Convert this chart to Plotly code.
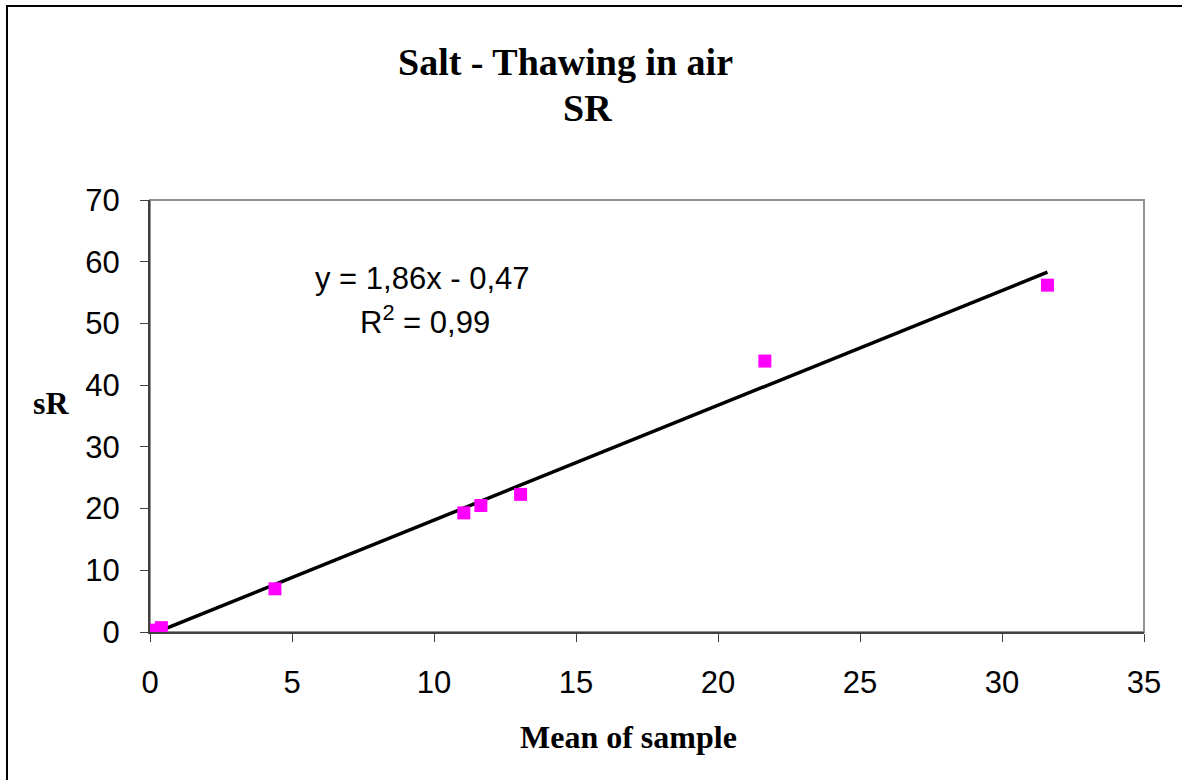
import plotly.graph_objects as go
import numpy as np

# Data
mean_of_sample = [0.15, 0.4, 4.4, 11.05, 11.65, 13.05, 21.65, 31.6]
sR_values = [0.3, 0.7, 7.0, 19.3, 20.5, 22.3, 43.9, 56.2]
trend_slope = 1.86
trend_intercept = -0.47
x_ticks = [0, 5, 10, 15, 20, 25, 30, 35]
y_ticks = [0, 10, 20, 30, 40, 50, 60, 70]

W, H = 1182, 780
L, R, T, B = 150, 38, 200, 148
pw, ph = W - L - R, H - T - B

def px(x):
    return (x - L) / pw

def py(y):
    return (H - B - y) / ph

x_line = np.array([min(mean_of_sample), max(mean_of_sample)])
y_line = trend_slope * x_line + trend_intercept

fig = go.Figure()
fig.add_trace(go.Scatter(x=x_line, y=y_line, mode="lines",
                         line=dict(color="black", width=3.5), showlegend=False,
                         hoverinfo="skip"))
fig.add_trace(go.Scatter(x=mean_of_sample, y=sR_values, mode="markers",
                         marker=dict(symbol="square", size=13, color="#FF00FF",
                                     line=dict(width=0)),
                         showlegend=False))

sans = "Liberation Sans, Arial, sans-serif"
serif = "Liberation Serif, Times New Roman, serif"

def label(text, x, y, family, size):
    return dict(text=text, xref="paper", yref="paper", x=px(x), y=py(y),
                xanchor="center", yanchor="middle", showarrow=False,
                font=dict(family=family, size=size, color="black"))

fig.update_layout(
    width=W, height=H,
    margin=dict(l=L, r=R, t=T, b=B),
    paper_bgcolor="white", plot_bgcolor="white",
    xaxis=dict(range=[0, 35], tickvals=x_ticks, ticks="outside", ticklen=8,
               tickcolor="#404040", showline=True, linecolor="#404040", linewidth=2,
               showgrid=False, zeroline=False, tickfont=dict(family=sans, size=31, color="black"),
               ticklabelstandoff=14),
    yaxis=dict(range=[0, 70], tickvals=y_ticks, ticks="outside", ticklen=8,
               tickcolor="#404040", showline=True, linecolor="#404040", linewidth=2,
               showgrid=False, zeroline=False, tickfont=dict(family=sans, size=31, color="black"),
               ticklabelstandoff=14),
    shapes=[
        dict(type="rect", xref="paper", yref="paper", x0=0, y0=0, x1=1, y1=1,
             line=dict(color="#909090", width=2), layer="below"),
        dict(type="rect", xref="paper", yref="paper", x0=px(7), y0=py(H + 20),
             x1=px(W + 20), y1=py(6), line=dict(color="black", width=2)),
    ],
    annotations=[
        label("<b>Salt - Thawing in air</b>", 565, 62, serif, 38),
        label("<b>SR</b>", 587, 108, serif, 38),
        label("<b>Mean of sample</b>", 628, 737, serif, 32),
        label("<b>sR</b>", 51, 403, serif, 32),
        label("y = 1,86x - 0,47", 422, 278, sans, 31),
        label("R<sup>2</sup> = 0,99", 425, 320, sans, 31),
    ],
)

fig.write_html("out.html", config={"displayModeBar": False},
               post_script="document.body.style.margin='0';document.body.style.overflow='hidden';")
